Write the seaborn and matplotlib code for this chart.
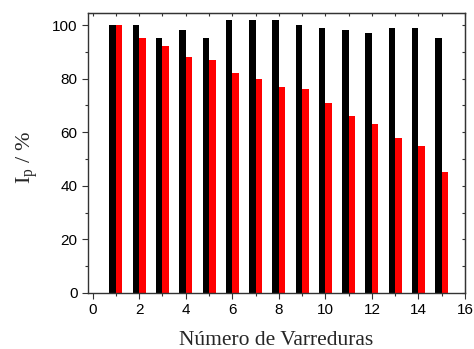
import matplotlib
matplotlib.use("Agg")
import matplotlib.pyplot as plt
import seaborn as sns
import pandas as pd
from matplotlib.ticker import MultipleLocator, NullFormatter

scans = list(range(1, 16))
black_vals = [100, 100, 95, 98, 95, 102, 102, 102, 100, 99, 98, 97, 99, 99, 95]
red_vals = [100, 95, 92, 88, 87, 82, 80, 77, 76, 71, 66, 63, 58, 55, 45]
series_names = ["A", "B"]
colors = ["#000000", "#ff0000"]

df = pd.DataFrame({
    "scan": scans * 2,
    "value": black_vals + red_vals,
    "series": [series_names[0]] * len(scans) + [series_names[1]] * len(scans),
})

sns.set_style("ticks")
plt.rcParams["mathtext.fontset"] = "custom"
plt.rcParams["mathtext.rm"] = "Liberation Serif"
plt.rcParams["mathtext.it"] = "Liberation Serif:italic"

fig = plt.figure(figsize=(4.74, 3.49), dpi=100)
ax = fig.add_axes([0.1857, 0.1605, 0.981 - 0.1857, 0.9628 - 0.1605])

sns.barplot(data=df, x="scan", y="value", hue="series", native_scale=True,
            palette=colors, saturation=1, width=0.56, gap=0, linewidth=0,
            ax=ax, legend=False, errorbar=None)

ax.set_xlim(-0.2, 16)
ax.set_ylim(0, 104.5)
ax.xaxis.set_major_locator(MultipleLocator(2))
ax.xaxis.set_minor_locator(MultipleLocator(1))
ax.yaxis.set_major_locator(MultipleLocator(20))
ax.yaxis.set_minor_locator(MultipleLocator(10))

spine_col = "#333333"
for s in ax.spines.values():
    s.set_visible(True)
    s.set_color(spine_col)
    s.set_linewidth(1.0)

ax.tick_params(axis="both", which="major", direction="out", length=4, width=0.8,
               colors=spine_col, labelcolor="black", labelsize=11)
ax.tick_params(axis="both", which="minor", direction="out", length=2.5, width=0.8,
               colors=spine_col)
for lbl in ax.get_xticklabels() + ax.get_yticklabels():
    lbl.set_family(["Liberation Sans", "DejaVu Sans"])

# mirrored inward ticks on top and right
top = ax.secondary_xaxis("top")
top.xaxis.set_major_locator(MultipleLocator(1))
top.xaxis.set_major_formatter(NullFormatter())
top.tick_params(direction="in", length=2, width=0.8, colors=spine_col)
top.spines["top"].set_color(spine_col)
right = ax.secondary_yaxis("right")
right.yaxis.set_major_locator(MultipleLocator(10))
right.yaxis.set_major_formatter(NullFormatter())
right.tick_params(direction="in", length=2, width=0.8, colors=spine_col)
right.spines["right"].set_color(spine_col)

serif = ["Liberation Serif", "DejaVu Serif"]
ax.set_xlabel("Número de Varreduras", fontsize=15.5, family=serif, labelpad=10)
ax.set_ylabel(r"I$_\mathregular{p}$ / %", fontsize=16, family=serif)
ax.yaxis.set_label_coords(-0.127, 0.484)

fig.savefig("out.png", dpi=100)
